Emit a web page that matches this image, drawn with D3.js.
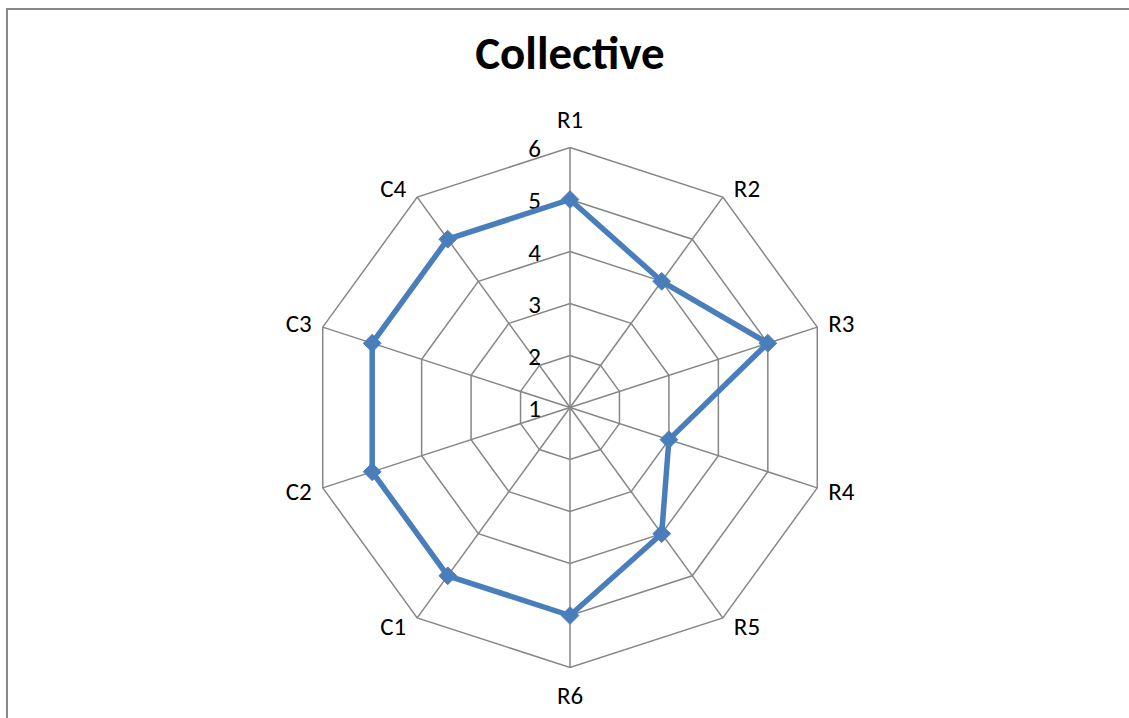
<!DOCTYPE html>
<html>
<head>
<meta charset="utf-8">
<script src="https://cdn.jsdelivr.net/npm/d3@7"></script>
<style>
  html, body { margin: 0; padding: 0; background: #fff; }
  svg { display: block; }
  text { font-family: Carlito, Calibri, Lato, "Open Sans", sans-serif; fill: #000; }
</style>
</head>
<body>
<svg id="chart" width="1129" height="718"></svg>
<script>
const categories = ["R1", "R2", "R3", "R4", "R5", "R6", "C1", "C2", "C3", "C4"];
const values = [5, 4, 5, 3, 4, 5, 5, 5, 5, 5];
const tickValues = [1, 2, 3, 4, 5, 6];
const titleText = "Collective";

const W = 1129, H = 718;
const cx = 570, cy = 407.5, R = 260;
const svg = d3.select("#chart");

// frame
svg.append("rect").attr("x", 7).attr("y", 9).attr("width", 1200).attr("height", 800)
  .attr("fill", "none").attr("stroke", "#888").attr("stroke-width", 2);

const rScale = d3.scaleLinear().domain([1, 6]).range([0, R]);
const angle = d3.scaleLinear().domain([0, categories.length]).range([0, 2 * Math.PI]);
const pt = (i, v) => {
  const a = angle(i), r = rScale(v);
  return [cx + r * Math.sin(a), cy - r * Math.cos(a)];
};

const g = svg.append("g");
// rings
tickValues.filter(t => t > 1).forEach(t => {
  g.append("path")
    .attr("d", d3.line()(categories.map((c, i) => pt(i, t))) + "Z")
    .attr("fill", "none").attr("stroke", "#868686").attr("stroke-width", 1.5);
});
// spokes
categories.forEach((c, i) => {
  const [x, y] = pt(i, 6);
  g.append("line").attr("x1", cx).attr("y1", cy).attr("x2", x).attr("y2", y)
    .attr("stroke", "#868686").attr("stroke-width", 1.5);
});

// tick labels
tickValues.forEach(t => {
  g.append("text").attr("x", cx - 29).attr("y", cy - rScale(t) + 1)
    .attr("text-anchor", "end").attr("dominant-baseline", "central")
    .style("font-size", "25px").text(t);
});

// category labels
categories.forEach((c, i) => {
  const a = angle(i);
  const [vx, vy] = pt(i, 6);
  const s = Math.sin(a), co = Math.cos(a);
  let x, y, anchor;
  if (Math.abs(s) < 0.1) {
    anchor = "middle"; x = vx; y = vy - co * 28;
  } else {
    anchor = s > 0 ? "start" : "end";
    x = vx + (s > 0 ? 11 : -11);
    y = vy - co * 11;
  }
  g.append("text").attr("x", x).attr("y", y)
    .attr("text-anchor", anchor).attr("dominant-baseline", "central")
    .style("font-size", "25px").text(c);
});

// series line
const pts = values.map((v, i) => pt(i, v));
g.append("path")
  .attr("d", d3.line()(pts) + "Z")
  .attr("fill", "none").attr("stroke", "#4A7EBB").attr("stroke-width", 5.5)
  .attr("stroke-linejoin", "round");

// markers
const diamond = d3.symbol().type(d3.symbolDiamond2).size(200);
g.selectAll(".mk").data(pts).enter().append("path")
  .attr("class", "mk")
  .attr("transform", d => `translate(${d[0]},${d[1]})`)
  .attr("d", diamond)
  .attr("fill", "#4A7EBB").attr("stroke", "#4A7EBB").attr("stroke-width", 1);

// title
svg.append("text").attr("x", cx).attr("y", 69)
  .attr("text-anchor", "middle")
  .style("font-size", "47px").style("font-weight", "bold").text(titleText);
</script>
</body>
</html>
